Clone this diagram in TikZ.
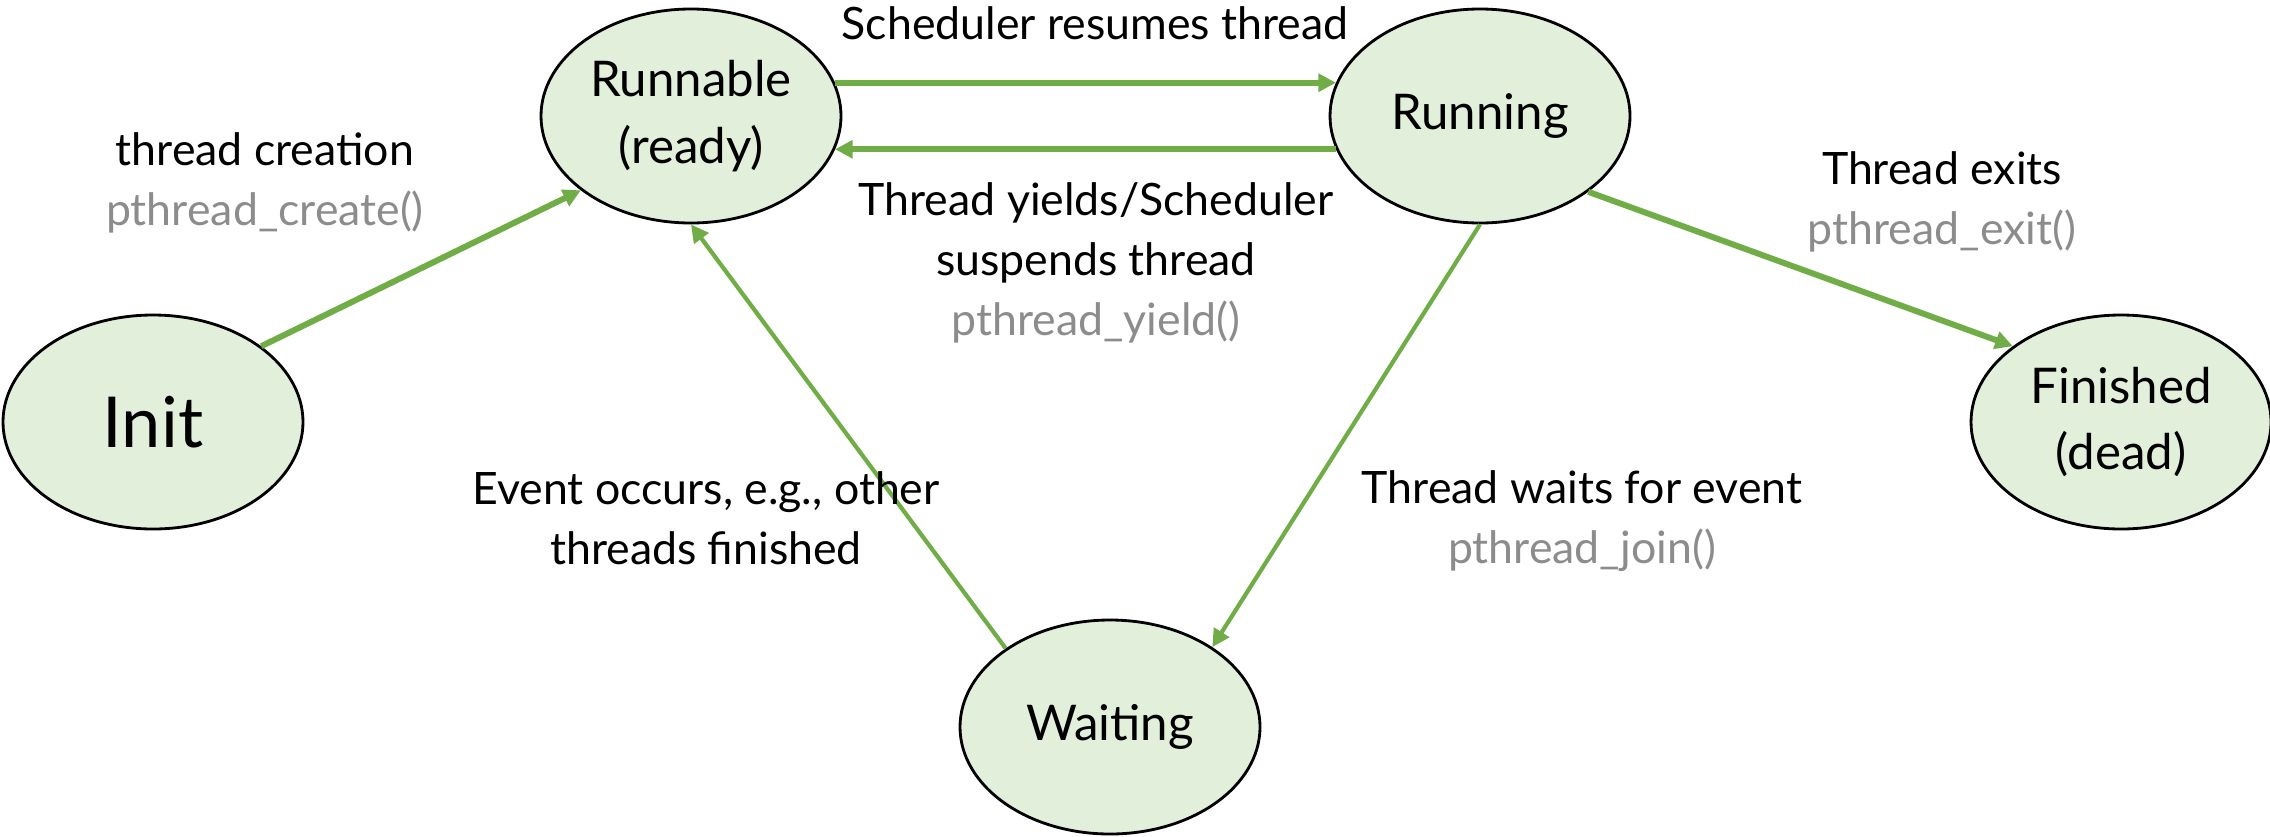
\documentclass[tikz,border=0pt]{standalone}
\usepackage{fontspec}
\setmainfont{Lato}
\usetikzlibrary{arrows.meta,shapes.geometric}
\definecolor{statefill}{HTML}{E2EFDA}
\definecolor{arrcol}{HTML}{70AD47}
\definecolor{fncol}{HTML}{8C8C8C}
\tikzstyle{state}=[ellipse,draw=black,line width=0.8pt,fill=statefill,minimum width=3cm,minimum height=2.14cm,inner sep=0pt,align=center,font=\fontsize{14}{19}\selectfont]
\tikzstyle{trans}=[-{Triangle[length=5pt,width=5pt]},line width=1.7pt,arrcol]
\tikzstyle{waittrans}=[trans,line width=1.2pt]
\tikzstyle{lbl}=[align=center,font=\fontsize{12.7}{17}\selectfont]
\def\fn#1{{\color{fncol}#1}}

\begin{document}
\begin{tikzpicture}
    \useasboundingbox (0,0) rectangle (22.7,8.36);

    % states
    \node[state,font=\fontsize{20}{24}\selectfont] (init) at (1.53,4.14) {Init};
    \node[state] (runnable) at (6.91,7.20) {Runnable\\(ready)};
    \node[state] (running) at (14.80,7.20) {Running};
    \node[state] (finished) at (21.21,4.14) {Finished\\(dead)};
    \node[state] (waiting) at (11.10,1.09) {Waiting};

    % transitions
    \draw[trans] (init.35) -- (runnable.214);
    \draw[trans] (runnable.13) -- (running.167);
    \draw[trans] (running.193) -- (runnable.-13);
    \draw[trans] (running.-35) -- (finished.145);
    \draw[waittrans] (running.south) -- (waiting.38);
    \draw[waittrans] (waiting.143) -- (runnable.south);

    % labels
    \node[lbl] (lcreate) at (2.65,6.53) {thread creation\\\fn{pthread\_create()}};
    \node[lbl] (lresume) at (10.95,8.13) {Scheduler resumes thread};
    \node[lbl] (lyield) at (10.96,5.73) {Thread yields/Scheduler\\suspends thread\\\fn{pthread\_yield()}};
    \node[lbl] (lexit) at (19.42,6.34) {Thread exits\\\fn{pthread\_exit()}};
    \node[lbl] (levent) at (7.06,3.18) {Event occurs, e.g., other\\threads finished};
    \node[lbl] (ljoin) at (15.82,3.15) {Thread waits for event\\\fn{pthread\_join()}};
\end{tikzpicture}
\end{document}
